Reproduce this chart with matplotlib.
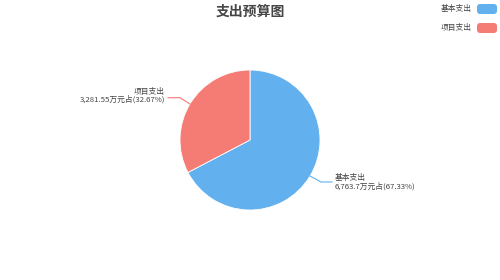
import matplotlib
matplotlib.use("Agg")
import matplotlib.pyplot as plt
from matplotlib.patches import FancyBboxPatch

plt.rcParams['font.family'] = ['Noto Sans CJK SC', 'DejaVu Sans']

# ===== Data =====
categories = ["基本支出", "项目支出"]
values = [6763.7, 3281.55]
value_text = ["6,763.7", "3,281.55"]
percents = ["67.33%", "32.67%"]
colors = ["#62b0ee", "#f47c74"]

# ===== Figure: axes in pixel coordinates (y up) =====
fig = plt.figure(figsize=(5, 2.8), dpi=100)
ax = fig.add_axes([0, 0, 1, 1])

H = 280
cx, cy, r = 250, H - 140, 70

wedges, _ = ax.pie(values, colors=colors, startangle=90, counterclock=False,
                   center=(cx, cy), radius=r, frame=True,
                   wedgeprops=dict(linewidth=0.6, edgecolor="white"))
ax.set_xlim(0, 500)
ax.set_ylim(0, 280)
ax.set_aspect("equal")
ax.axis("off")

# title
ax.text(250, H - 12, "支出预算图", ha="center", va="center",
        fontsize=10, fontweight="bold", color="#464646")

label_kw = dict(va="center", fontsize=5.6, color="#444444", linespacing=0.95)

# blue (基本支出)
ax.plot([310, 321, 332], [H - 176, H - 182, H - 182], color=colors[0], lw=0.8)
ax.text(335, H - 182.5, f"{categories[0]}\n{value_text[0]}万元占({percents[0]})",
        ha="left", multialignment="left", **label_kw)

# red (项目支出)
ax.plot([190, 180, 168], [H - 104, H - 97.7, H - 97.7], color=colors[1], lw=0.8)
ax.text(165, H - 96, f"{categories[1]}\n{value_text[1]}万元占({percents[1]})",
        ha="right", multialignment="right", **label_kw)

# legend
for i, (name, col) in enumerate(zip(categories, colors)):
    y = H - 9 - i * 19
    box = FancyBboxPatch((477, y - 5), 20, 10, boxstyle="round,pad=0,rounding_size=3",
                         facecolor=col, edgecolor="none")
    ax.add_patch(box)
    ax.text(472, y, name, ha="right", va="center", fontsize=5.6, color="#444444")

fig.savefig("out.png", dpi=100, facecolor="white")
